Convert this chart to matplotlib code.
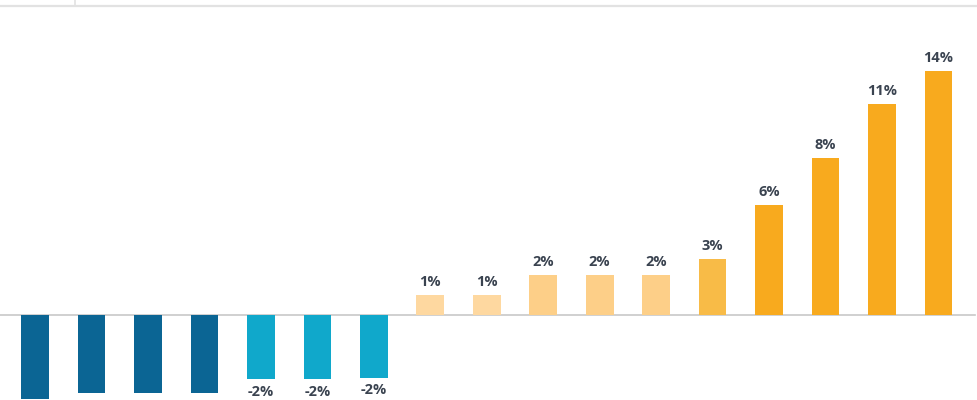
import matplotlib
matplotlib.use("Agg")
import matplotlib.pyplot as plt
from matplotlib.lines import Line2D

# bar heights (chart units), and the printed labels
values = [-4.8, -4.5, -4.5, -4.5, -3.7, -3.7, -3.6,
          1.15, 1.15, 2.3, 2.3, 2.3, 3.2, 6.3, 9.0, 12.1, 14.0]
labels = ["", "", "", "", "-2%", "-2%", "-2%",
          "1%", "1%", "2%", "2%", "2%", "3%", "6%", "8%", "11%", "14%"]
colors = ["#0b6594"] * 4 + ["#10a8cb"] * 3 + \
         ["#fed8a0"] * 2 + ["#fdcf88"] * 3 + ["#f8bb47"] + ["#f8aa1e"] * 4

fig = plt.figure(figsize=(9.78, 4.0), dpi=100)
ax = fig.add_axes([0, 0, 1, 1])

x = list(range(len(values)))
ax.bar(x, values, width=0.49, color=colors, zorder=2)
ax.axhline(0, xmin=0, xmax=975 / 978, color="#c8c8c8", lw=1.2, zorder=1)

for xi, v, lab in zip(x, values, labels):
    if not lab:
        continue
    if v >= 0:
        ax.annotate(lab, (xi, v), xytext=(0, 4.5), textcoords="offset points",
                    ha="center", va="bottom", fontsize=10.5, fontweight="bold",
                    color="#3a4350", family="Open Sans")
    else:
        ax.annotate(lab, (xi, v), xytext=(0, -4), textcoords="offset points",
                    ha="center", va="top", fontsize=10.5, fontweight="bold",
                    color="#3a4350", family="Open Sans")

ax.set_xlim(-0.62, 16.70)
ax.set_ylim(-4.885, 18.10)
ax.axis("off")

# thin frame line across the top with a small divider
fig.add_artist(Line2D([0, 1], [1 - 6 / 400, 1 - 6 / 400], transform=fig.transFigure,
                      color="#e2e2e2", lw=1.6))
fig.add_artist(Line2D([75 / 978, 75 / 978], [1 - 6 / 400, 1], transform=fig.transFigure,
                      color="#e2e2e2", lw=1.2))

fig.savefig("out.png", dpi=100)
